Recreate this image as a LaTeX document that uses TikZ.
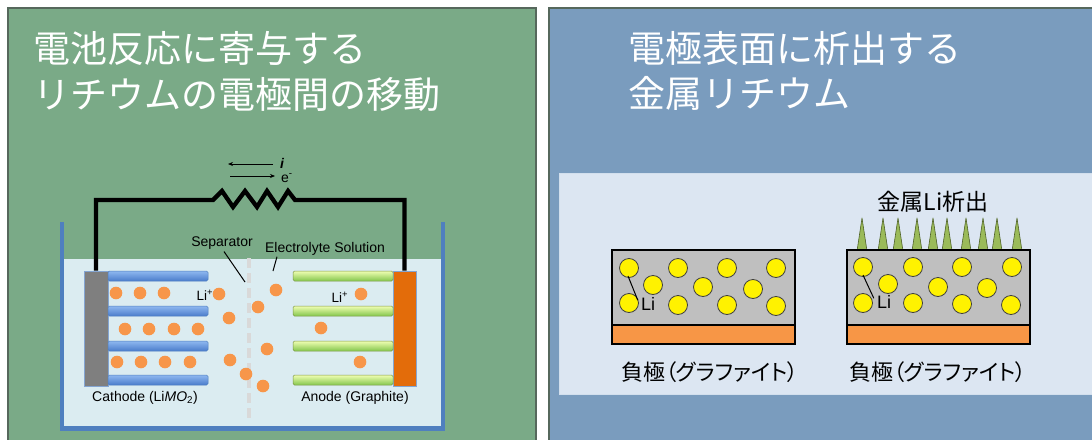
\documentclass[tikz,border=0pt]{standalone}
\usepackage{fontspec}
\setmainfont{Liberation Sans}
\newfontfamily\jpfont{Noto Sans CJK JP}
\newfontfamily\jppfont{Noto Sans CJK JP}[RawFeature=+palt]
\usetikzlibrary{arrows.meta}
\definecolor{panelgreen}{HTML}{7AAA87}
\definecolor{panelblue}{HTML}{7A9CBE}
\definecolor{paneledge}{HTML}{56685C}
\definecolor{lightbox}{HTML}{DCE6F2}
\definecolor{liquid}{HTML}{DBECF1}
\definecolor{tankblue}{HTML}{4F7FBF}
\definecolor{barlight}{HTML}{8FB8F0}
\definecolor{bardark}{HTML}{4A7CCB}
\definecolor{ionorange}{HTML}{F7964A}
\definecolor{anodeorange}{HTML}{E36C0A}
\definecolor{collgray}{HTML}{7F7F7F}
\definecolor{sepgray}{HTML}{D9D9D9}
\definecolor{graphgray}{HTML}{BFBFBF}
\definecolor{cuorange}{HTML}{F79646}
\definecolor{spikegreen}{HTML}{9BBB59}
\definecolor{spikeedge}{HTML}{4F6228}
\begin{document}
\begin{tikzpicture}[x=1pt,y=-1pt,
  title/.style={text=white, font=\jpfont\fontsize{37}{44}\selectfont, anchor=west, inner sep=0},
  lbl/.style={font=\fontsize{14}{16}\selectfont, inner sep=0},
  smalllbl/.style={font=\fontsize{13.5}{15}\selectfont, inner sep=0},
  ion/.style={circle, fill=ionorange, minimum size=12.6, inner sep=0},
  libead/.style={circle, fill=yellow, draw=black!75, line width=0.8, minimum size=19, inner sep=0},
  bluebar/.style={rectangle, rounded corners=1.5, minimum width=100, minimum height=10, inner sep=0,
    top color=barlight, bottom color=bardark, draw=tankblue, line width=0.5},
  greenbar/.style={rectangle, rounded corners=1.5, minimum width=100, minimum height=10, inner sep=0,
    top color=green!20!yellow!30!white, bottom color=spikegreen!85!green, draw=spikegreen!80!black, line width=0.5},
  collector/.style={rectangle, minimum height=115, inner sep=0, draw=tankblue!70, line width=0.7},
  wire/.style={line width=4.3, black},
  thinarrow/.style={line width=0.7, -{Stealth[length=5,width=4]}},
  leader/.style={line width=1, black},
  electrode/.style={rectangle, minimum width=183, inner sep=0, draw=black, line width=2},
  spike/.style={fill=spikegreen, draw=spikeedge, line width=0.6, line join=round}
]
\useasboundingbox (0,0) rectangle (1092,439);
\fill[white] (0,0) rectangle (1092,439);

% ---------- left panel ----------
\draw[fill=panelgreen, draw=paneledge, line width=1.5] (8,8) rectangle (536,450);
\node[title] (ltitle1) at (33,48) {電池反応に寄与する};
\node[title] (ltitle2) at (33,95) {リチウムの電極間の移動};

% electrolyte tank
\fill[liquid] (64,259) rectangle (441,426);
\draw[tankblue, line width=4.5] (62,222) -- (62,428.5) -- (443,428.5) -- (443,222);

% separator
\draw[sepgray, line width=4, dash pattern=on 10 off 5] (249,258) -- (249,422);

% current collectors
\node[collector, fill=collgray, minimum width=24] (cathode) at (96,328.5) {};
\node[collector, fill=anodeorange, minimum width=23] (anode) at (404.5,328.5) {};

% electrode layers
\foreach \yy [count=\k] in {276,311,346,380} {
  \node[bluebar] (cb\k) at (158,\yy) {};
  \node[greenbar] (ab\k) at (343,\yy) {};
}

% external circuit with resistor
\coordinate (rstart) at (213,200);
\coordinate (rend) at (295,200);
\draw[wire] (cathode.north) |- (rstart)
  -- (222,191) -- (233,207) -- (245,191) -- (257,207)
  -- (267,191) -- (278,207) -- (288,191) -- (rend) -| (anode.north);

% current and electron directions
\coordinate (ia) at (273,164);
\coordinate (ib) at (228,164);
\coordinate (ea) at (230,176);
\coordinate (eb) at (275,176);
\draw[thinarrow] (ia) -- (ib);
\draw[thinarrow] (ea) -- (eb);
\node[lbl, anchor=west] (ilbl) at (280,163) {\textbf{\textit{i}}};
\node[lbl, anchor=west] (elbl) at (281,178) {e\textsuperscript{-}};

% lithium ions
\foreach \px/\py [count=\k] in {116/293,140/293,164/293,
    125/329,149/329,174/329,198/329,
    117/362,141/362,165/362,190/362,
    219/294,229/318,230/360,246/374,258/307,276/290,267/349,263/386,
    361/294,321/328,360/362}
  \node[ion] (li\k) at (\px,\py) {};

\node[smalllbl] (lilL) at (205,295) {Li\textsuperscript{+}};
\node[smalllbl] (lilR) at (340,297) {Li\textsuperscript{+}};

% labels
\node[lbl] (seplbl) at (222,243) {Separator};
\node[lbl] (ellbl) at (325,249) {Electrolyte Solution};
\coordinate (septip) at (245,282);
\coordinate (eltip) at (273,271);
\draw[leader] ([xshift=2,yshift=-2]seplbl.south) -- (septip);
\draw[leader] ([xshift=-48,yshift=-1]ellbl.south) -- (eltip);
\node[lbl] (cathlbl) at (145,398) {Cathode (Li\textit{MO}\textsubscript{2})};
\node[lbl] (anolbl) at (355,398) {Anode (Graphite)};

% ---------- right panel ----------
\draw[fill=panelblue, draw=paneledge, line width=1.5] (549,8) rectangle (1100,450);
\node[title] (rtitle1) at (628,48) {電極表面に析出する};
\node[title] (rtitle2) at (628,93) {金属リチウム};
\draw[fill=lightbox, draw=lightbox!90!panelblue, line width=0.8] (559,173) rectangle (1100,394);

% metal lithium dendrites
\foreach \tx in {862,883,898,917,933,947,966,983,997,1017}
  \draw[spike] (\tx-5,251) -- (\tx,218) -- (\tx+5,251) -- cycle;

% negative electrodes: graphite layer on copper foil
\node[electrode, fill=graphgray, minimum height=75] (gr1) at (703.5,287.5) {};
\node[electrode, fill=cuorange, minimum height=19] (cu1) at (703.5,334.5) {};
\node[electrode, fill=graphgray, minimum height=75] (gr2) at (938.5,287.5) {};
\node[electrode, fill=cuorange, minimum height=19] (cu2) at (938.5,334.5) {};

\foreach \px/\py [count=\k] in {629/268,678/268,727/268,776/268,
    653/285,703/287,753/289,
    629/303,678/305,727/305,776/306}
  \node[libead] (ya\k) at (\px,\py) {};
\foreach \px/\py [count=\k] in {863/267,913/267,962/267,1012/267,
    888/284,938/287,987/288,
    863/303,913/303,962/304,1011/305}
  \node[libead] (yb\k) at (\px,\py) {};

\node[font=\fontsize{18}{20}\selectfont, inner sep=0] (lia) at (648,304) {Li};
\node[font=\fontsize{18}{20}\selectfont, inner sep=0] (lib) at (884,302) {Li};
\coordinate (tagA) at (628,276);
\coordinate (tagB) at (863,275);
\draw[leader] (tagA) -- ([xshift=-3,yshift=-3]lia.north west);
\draw[leader] (tagB) -- ([xshift=-3,yshift=-3]lib.north west);

\node[font=\jpfont\fontsize{23}{26}\selectfont, inner sep=0] (plating) at (933,202) {金属Li析出};
\node[font=\jppfont\fontsize{22}{26}\selectfont, inner sep=0] (neg1) at (710,372) {負極（グラファイト）};
\node[font=\jppfont\fontsize{22}{26}\selectfont, inner sep=0] (neg2) at (938,372) {負極（グラファイト）};
\end{tikzpicture}
\end{document}
